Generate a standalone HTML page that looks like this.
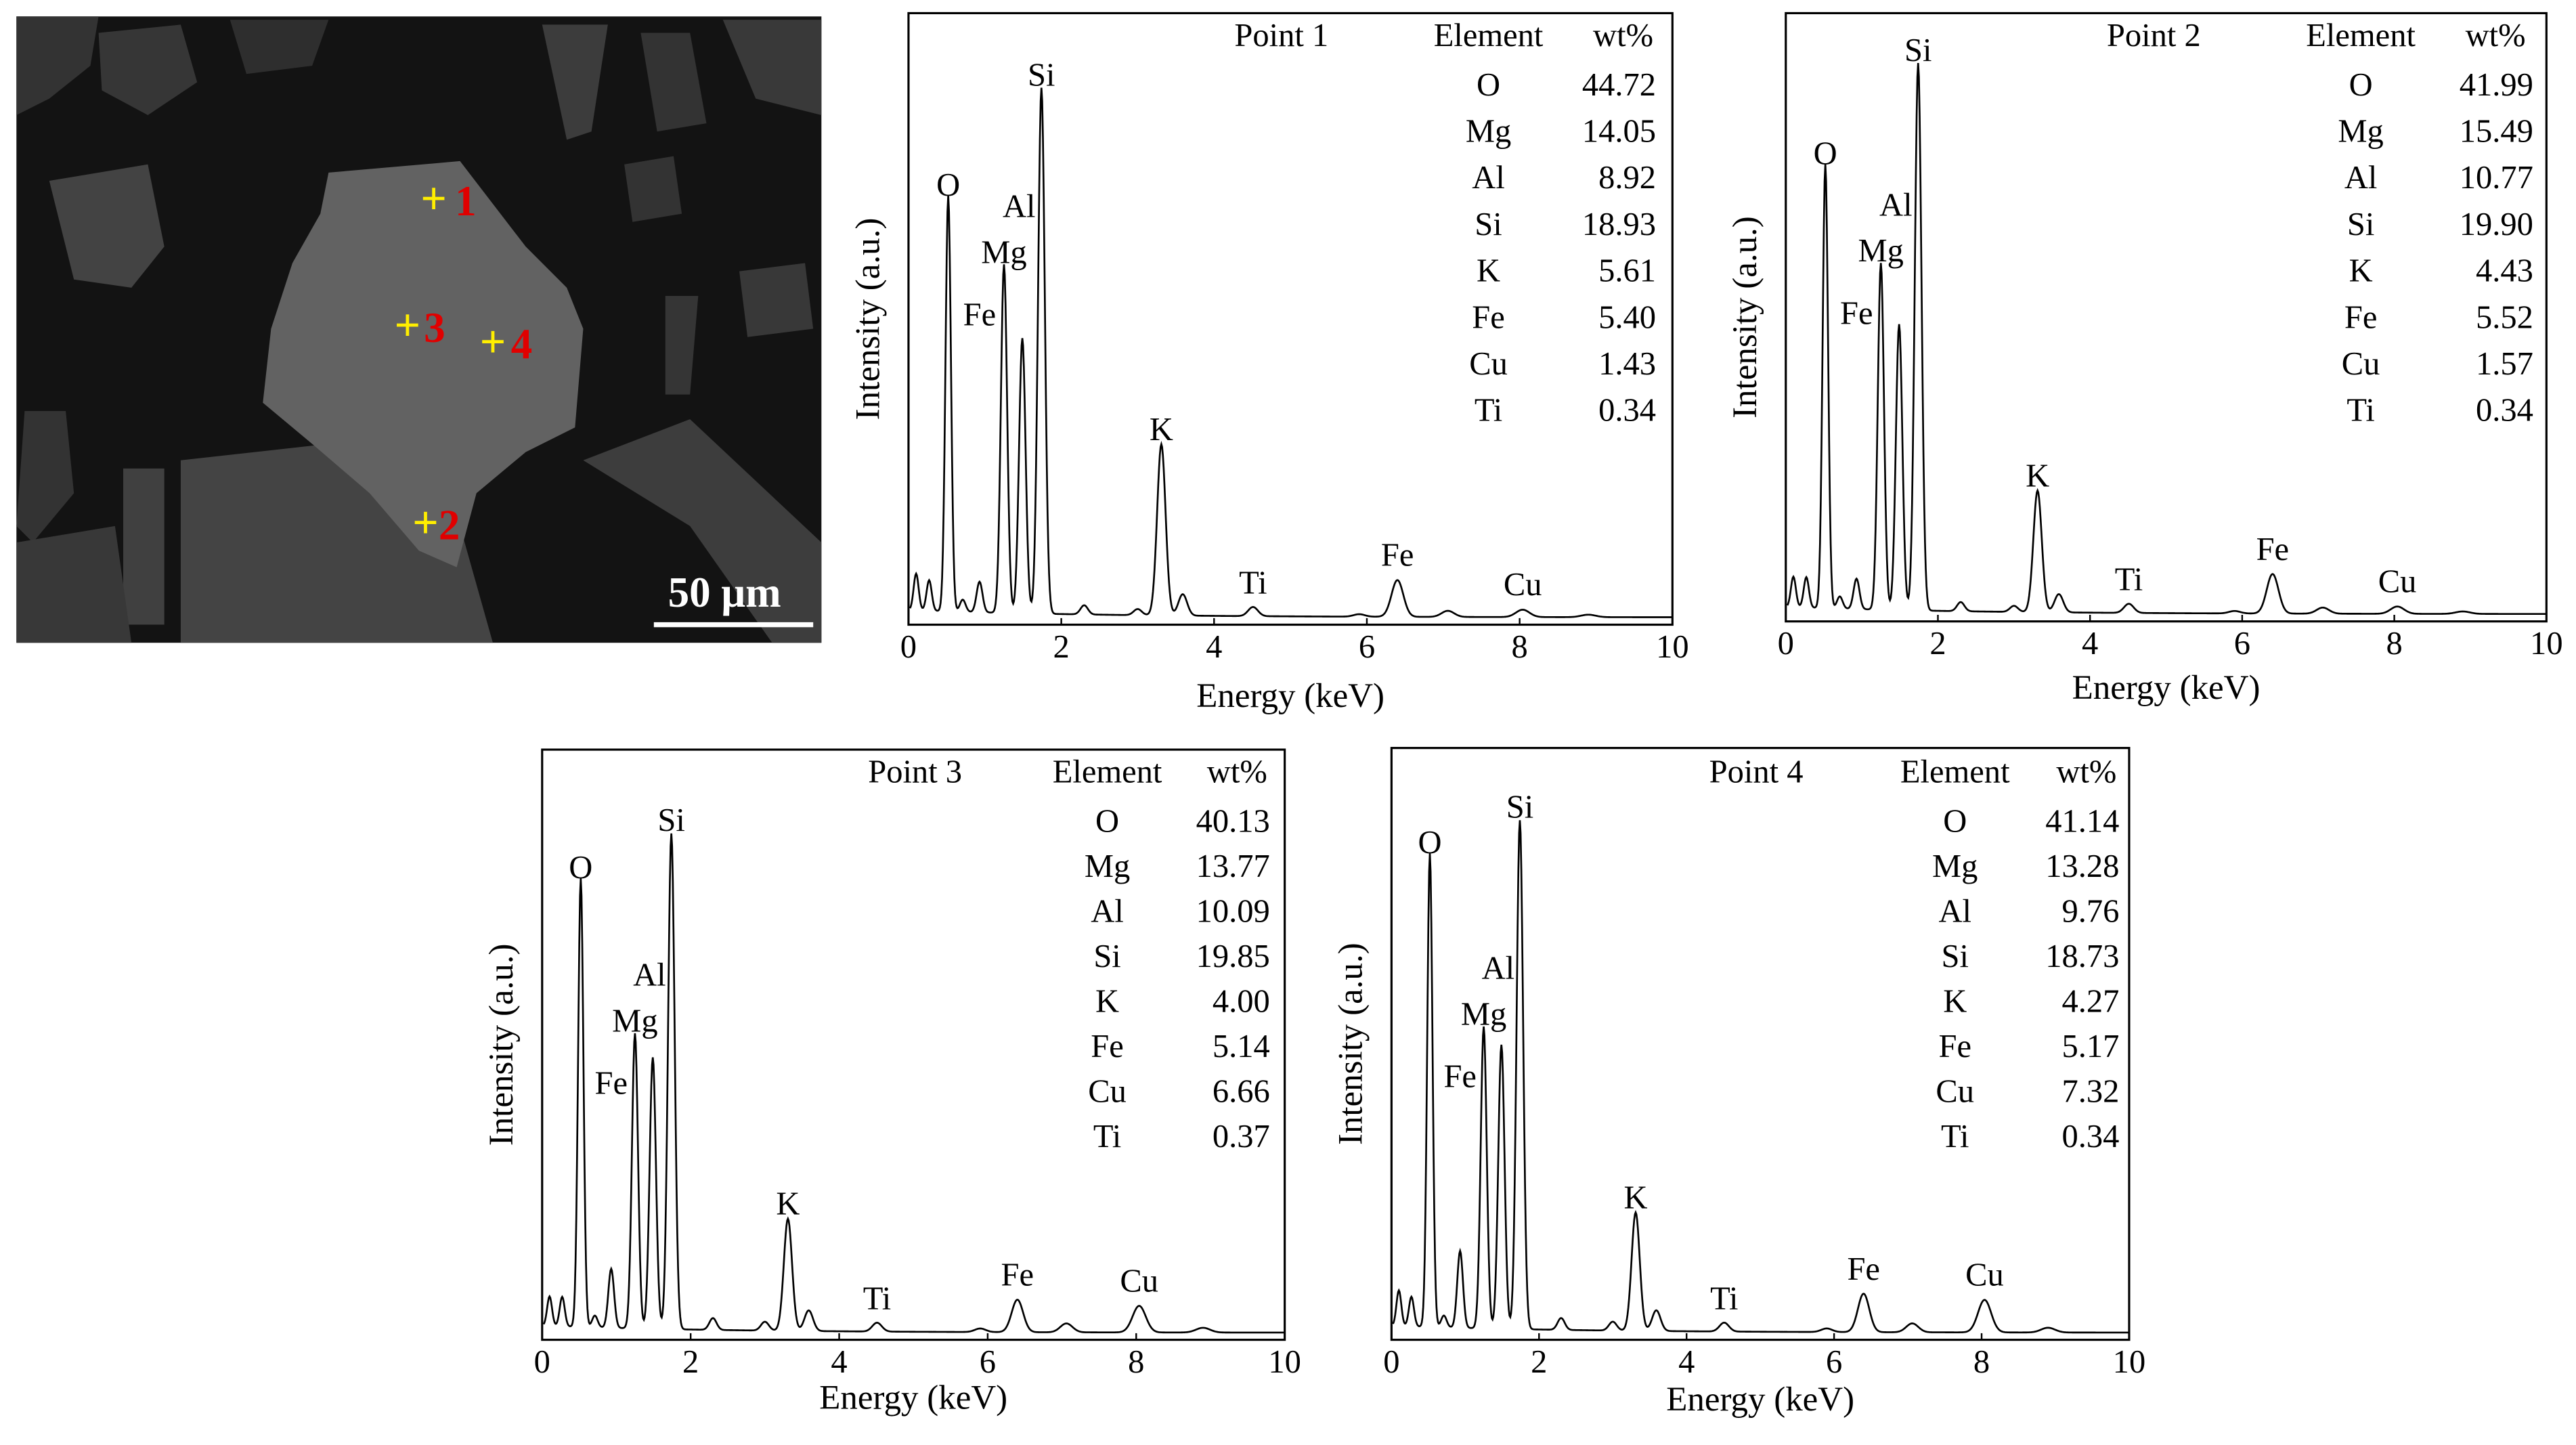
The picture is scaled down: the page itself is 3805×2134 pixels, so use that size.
<!DOCTYPE html>
<html><head><meta charset="utf-8"><style>
html,body{margin:0;padding:0;background:#fff;}
svg{display:block;font-family:"Liberation Serif","Times New Roman",serif;}
svg text{font-family:"Liberation Serif","Times New Roman",serif;}
</style></head><body>
<svg id="fig" width="3805" height="2134" viewBox="0 0 1568 879" preserveAspectRatio="none" font-family="Liberation Serif, serif" xmlns="http://www.w3.org/2000/svg">
<rect width="1568" height="879" fill="#fff"/>
<g id="sem">
  <rect x="10" y="10" width="490" height="381" fill="#131313"/>
  <polygon points="10,10 60,10 55,40 30,60 10,70" fill="#333"/>
  <polygon points="60,20 110,15 120,50 90,70 62,55" fill="#363636"/>
  <polygon points="140,12 200,12 190,40 150,45" fill="#2e2e2e"/>
  <polygon points="330,15 370,15 360,80 345,85" fill="#3c3c3c"/>
  <polygon points="390,20 420,20 430,75 400,80" fill="#333"/>
  <polygon points="440,12 500,12 500,70 460,60" fill="#393939"/>
  <polygon points="30,110 90,100 100,150 80,175 45,170" fill="#434343"/>
  <polygon points="15,250 40,250 45,300 20,330 10,320" fill="#333"/>
  <polygon points="75,285 100,285 100,380 75,380" fill="#404040"/>
  <polygon points="110,280 200,270 280,320 300,391 110,391" fill="#444"/>
  <polygon points="10,330 70,320 80,391 10,391" fill="#383838"/>
  <polygon points="355,280 420,255 500,330 500,391 470,391 420,320" fill="#3d3d3d"/>
  <polygon points="450,165 490,160 495,200 455,205" fill="#383838"/>
  <polygon points="380,100 410,95 415,130 385,135" fill="#333"/>
  <polygon points="405,180 425,180 420,240 405,240" fill="#353535"/>
  <polygon points="200,105 280,98 320,150 345,175 355,200 350,260 320,275 290,300 278,345 255,335 225,300 190,270 160,245 165,200 178,160 195,130" fill="#626262"/>
  <g font-weight="bold">
    <text x="264" y="130" font-size="28" text-anchor="middle" style="fill:#ffee00">+</text><text x="277" y="131" font-size="26" style="fill:#e00000">1</text>
    <text x="259" y="327" font-size="28" text-anchor="middle" style="fill:#ffee00">+</text><text x="267" y="328" font-size="26" style="fill:#e00000">2</text>
    <text x="248" y="207" font-size="28" text-anchor="middle" style="fill:#ffee00">+</text><text x="258" y="208" font-size="26" style="fill:#e00000">3</text>
    <text x="300" y="217" font-size="28" text-anchor="middle" style="fill:#ffee00">+</text><text x="311" y="218" font-size="26" style="fill:#e00000">4</text>
  </g>
  <line x1="398" y1="380" x2="495" y2="380" stroke="#fff" stroke-width="3"/>
  <text x="441" y="369" font-size="26" font-weight="bold" text-anchor="middle" style="fill:#fff">50 μm</text>
</g>
<g id="charts"></g>
</svg>
<script>
// energies of peaks (keV)
const peakEnergies = [0.1, 0.27, 0.52, 0.71, 0.93, 1.25, 1.49, 1.74, 2.3, 3.0, 3.31, 3.59, 4.51, 5.9, 6.4, 7.06, 8.04, 8.9];
// relative peak heights per point
const heights1 = [0.06, 0.05, 0.68, 0.02, 0.05, 0.57, 0.45, 0.86, 0.015, 0.01, 0.28, 0.035, 0.015, 0.004, 0.06, 0.01, 0.012, 0.004];
const heights2 = [0.05, 0.05, 0.73, 0.02, 0.05, 0.57, 0.47, 0.90, 0.015, 0.01, 0.20, 0.03, 0.015, 0.004, 0.065, 0.01, 0.012, 0.004];
const heights3 = [0.05, 0.05, 0.76, 0.02, 0.10, 0.50, 0.46, 0.84, 0.02, 0.015, 0.19, 0.035, 0.015, 0.006, 0.055, 0.015, 0.045, 0.008];
const heights4 = [0.06, 0.05, 0.80, 0.02, 0.13, 0.51, 0.48, 0.86, 0.02, 0.015, 0.20, 0.035, 0.015, 0.006, 0.065, 0.015, 0.055, 0.008];
const xTicks = [0, 2, 4, 6, 8, 10];
const elements = ["O", "Mg", "Al", "Si", "K", "Fe", "Cu", "Ti"];
const wt1 = ["44.72", "14.05", "8.92", "18.93", "5.61", "5.40", "1.43", "0.34"];
const wt2 = ["41.99", "15.49", "10.77", "19.90", "4.43", "5.52", "1.57", "0.34"];
const wt3 = ["40.13", "13.77", "10.09", "19.85", "4.00", "5.14", "6.66", "0.37"];
const wt4 = ["41.14", "13.28", "9.76", "18.73", "4.27", "5.17", "7.32", "0.34"];
const peakLabels = ["O", "Fe", "Mg", "Al", "Si", "K", "Ti", "Fe", "Cu"];
const labelEnergies = [0.52, 0.93, 1.25, 1.49, 1.74, 3.31, 4.51, 6.4, 8.04];

const NS = "http://www.w3.org/2000/svg";
const FF = "Liberation Serif, Times New Roman, serif";
const root = document.getElementById("charts");
function mk(tag, attrs, parent){const e=document.createElementNS(NS,tag);for(const k in attrs)e.setAttribute(k,attrs[k]);if(tag==="text")e.setAttribute("font-family",FF);parent.appendChild(e);return e;}

const panels = [
 {n:1,x0:553,x1:1018,y0:8,y1:380,h:heights1,wt:wt1,ptx:780,elx:906,wtx:988,valx:1008,row0:52,dr:28.3,xl:430},
 {n:2,x0:1087,x1:1550,y0:8,y1:378,h:heights2,wt:wt2,ptx:1311,elx:1437,wtx:1519,valx:1542,row0:52,dr:28.3,xl:425},
 {n:3,x0:330,x1:782,y0:456,y1:815,h:heights3,wt:wt3,ptx:557,elx:674,wtx:753,valx:773,row0:500,dr:27.4,xl:857},
 {n:4,x0:847,x1:1296,y0:455,y1:815,h:heights4,wt:wt4,ptx:1069,elx:1190,wtx:1270,valx:1290,row0:500,dr:27.4,xl:858}
];
panels.forEach(p=>{
  const g=mk("g",{},root);
  
  
  const xs=e=>p.x0+(e/10)*(p.x1-p.x0);
  const ys=v=>p.y1-v*(p.y1-p.y0);
  const spec=E=>{let v=0.012+0.012*Math.exp(-E/2.5);for(let i=0;i<peakEnergies.length;i++){const s=0.032+0.007*peakEnergies[i];v+=p.h[i]*Math.exp(-Math.pow(E-peakEnergies[i],2)/(2*s*s));}return v;};
  let d="";
  for(let E=0.02;E<=10;E+=0.01){d+=(d?"L":"M")+xs(E).toFixed(2)+","+ys(spec(E)).toFixed(2);}
  const path=mk("path",{d:d,fill:"none",stroke:"#000","stroke-width":"1.1"},g);
  
  
  const frame=mk("rect",{x:p.x0,y:p.y0,width:p.x1-p.x0,height:p.y1-p.y0,fill:"none",stroke:"#000","stroke-width":"1.3"},g);
  
  
  xTicks.forEach(t=>{
    mk("line",{x1:xs(t),x2:xs(t),y1:p.y1,y2:p.y1-4,stroke:"#000","stroke-width":"1"},g);
    const tl=mk("text",{x:xs(t),y:p.y1+20,"font-size":"20","text-anchor":"middle"},g);
    tl.textContent=t;
    
    
  });
  const xt=mk("text",{x:(p.x0+p.x1)/2,y:p.xl,"font-size":"21","text-anchor":"middle"},g);
  xt.textContent="Energy (keV)";
  
  
  const yc=(p.y0+p.y1)/2;
  const yt=mk("text",{x:p.x0-18,y:yc,"font-size":"21","text-anchor":"middle",transform:"rotate(-90 "+(p.x0-18)+" "+yc+")"},g);
  yt.textContent="Intensity (a.u.)";
  
  
  peakLabels.forEach((lab,i)=>{
    const E=labelEnergies[i];
    const idx=peakEnergies.indexOf(E);
    let x=xs(E), y=ys(p.h[idx])-8;
    if(lab==="Al"){x=xs(1.49)-2;y=ys(p.h[5])-36;}
    if(lab==="Mg"){y=ys(p.h[5])-8;}
    if(i===1){x=xs(0.93);y=ys(p.h[5])+30;}
    if(i>=6){y=ys(p.h[idx]+0.02)-6;}
    const t=mk("text",{x:x,y:y,"font-size":"20","text-anchor":"middle"},g);
    t.textContent=lab;
    
    
  });
  const th=mk("text",{x:p.ptx,y:p.row0-24,"font-size":"20","text-anchor":"middle"},g);
  th.textContent="Point "+p.n;
  
  
  const eh=mk("text",{x:p.elx,y:p.row0-24,"font-size":"20","text-anchor":"middle"},g);
  eh.textContent="Element";
  
  
  const wh=mk("text",{x:p.wtx,y:p.row0-24,"font-size":"20","text-anchor":"middle"},g);
  wh.textContent="wt%";
  
  
  elements.forEach((el,i)=>{
    const ey=p.row0+i*p.dr+6;
    const a=mk("text",{x:p.elx,y:ey,"font-size":"20","text-anchor":"middle"},g);
    a.textContent=el;
    
    
    const b=mk("text",{x:p.valx,y:ey,"font-size":"20","text-anchor":"end"},g);
    b.textContent=p.wt[i];
    
    
  });
});
</script>
</body></html>
